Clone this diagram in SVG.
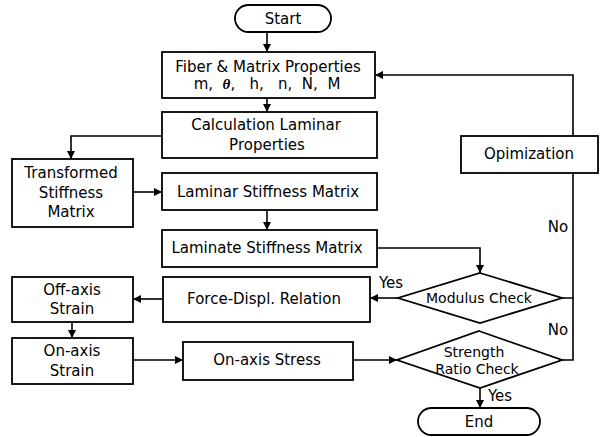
<svg xmlns="http://www.w3.org/2000/svg" width="601" height="437" viewBox="0 0 601 437">
<style>
.b{fill:#fff;stroke:#000;stroke-width:1.8}
.c{fill:none;stroke:#000;stroke-width:1.6}
text{font-family:"DejaVu Sans","Liberation Sans",sans-serif;font-size:15px;fill:#000;text-anchor:middle;dominant-baseline:central}
.s{font-size:14px}
</style>
<defs>
<marker id="a" viewBox="0 0 10 10" refX="10" refY="5" markerWidth="8" markerHeight="8" markerUnits="userSpaceOnUse" orient="auto">
<path d="M0,0 L10,5 L0,10 z" fill="#000"/>
</marker>
</defs>
<rect width="601" height="437" fill="#fff"/>
<g id="connectors">
<path class="c" d="M267,32 V52" marker-end="url(#a)"/>
<path class="c" d="M267,98 V112" marker-end="url(#a)"/>
<path class="c" d="M162,136 H71 V159" marker-end="url(#a)"/>
<path class="c" d="M133,192 H162" marker-end="url(#a)"/>
<path class="c" d="M267,210 V230" marker-end="url(#a)"/>
<path class="c" d="M377,248 H480 V273" marker-end="url(#a)"/>
<path class="c" d="M398,298 H370" marker-end="url(#a)"/>
<path class="c" d="M562,298 H573 V173"/>
<path class="c" d="M562,360 H573 V298"/>
<path class="c" d="M573,136 V75 H375" marker-end="url(#a)"/>
<path class="c" d="M163,299 H133" marker-end="url(#a)"/>
<path class="c" d="M72,322 V338" marker-end="url(#a)"/>
<path class="c" d="M133,360 H183" marker-end="url(#a)"/>
<path class="c" d="M353,360 H397" marker-end="url(#a)"/>
<path class="c" d="M480,388 V408" marker-end="url(#a)"/>
<text x="391" y="283">Yes</text>
<text x="558" y="227">No</text>
<text x="558" y="330">No</text>
<text x="500" y="396">Yes</text>
</g>
<g id="start"><rect class="b" x="235" y="5" width="96" height="27" rx="13.5"/><text x="283" y="18.5">Start</text></g>
<g id="fiber"><rect class="b" x="162" y="52" width="213" height="46"/><text x="268" y="67">Fiber &amp; Matrix Properties</text><text x="267" y="84" xml:space="preserve">m,  <tspan font-style="italic" font-weight="bold" font-family="Liberation Serif, serif">θ</tspan>,   h,   n,  N,  M</text></g>
<g id="calc"><rect class="b" x="162" y="112" width="215" height="46"/><text x="266" y="125">Calculation Laminar</text><text x="267" y="145">Properties</text></g>
<g id="transformed"><rect class="b" x="12" y="159" width="121" height="68"/><text x="71" y="173">Transformed</text><text x="71" y="193">Stiffness</text><text x="71" y="212">Matrix</text></g>
<g id="laminar"><rect class="b" x="162" y="173" width="215" height="37"/><text x="268" y="192">Laminar Stiffness Matrix</text></g>
<g id="laminate"><rect class="b" x="162" y="230" width="215" height="37"/><text x="267" y="248">Laminate Stiffness Matrix</text></g>
<g id="opt"><rect class="b" x="461" y="136" width="137" height="37"/><text x="529" y="154">Opimization</text></g>
<g id="modulus"><polygon class="b" points="480,273 562,298 480,323 398,298"/><text class="s" x="479" y="298">Modulus Check</text></g>
<g id="force"><rect class="b" x="163" y="277" width="207" height="45"/><text x="264" y="299">Force-Displ. Relation</text></g>
<g id="offaxis"><rect class="b" x="12" y="277" width="121" height="45"/><text x="72" y="290">Off-axis</text><text x="72" y="309">Strain</text></g>
<g id="onstrain"><rect class="b" x="12" y="338" width="121" height="46"/><text x="72" y="351">On-axis</text><text x="72" y="371">Strain</text></g>
<g id="onstress"><rect class="b" x="183" y="342" width="170" height="38"/><text x="267" y="360">On-axis Stress</text></g>
<g id="strength"><polygon class="b" points="479,331 562,360 480,388 397,360"/><text class="s" x="474" y="352">Strength</text><text class="s" x="477" y="369">Ratio Check</text></g>
<g id="end"><rect class="b" x="418" y="408" width="122" height="27" rx="13.5"/><text x="479" y="422">End</text></g>
</svg>
